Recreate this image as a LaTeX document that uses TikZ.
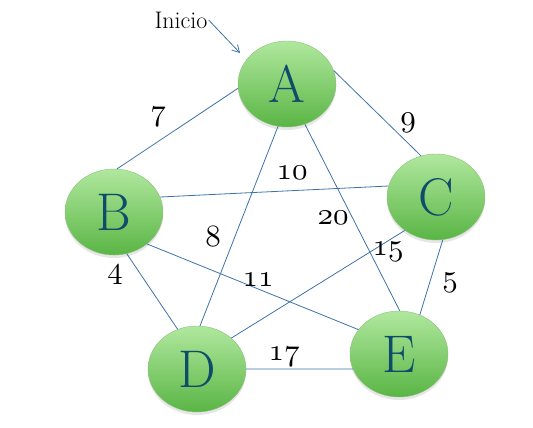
\documentclass[tikz,border=0pt]{standalone}
\usepackage{tikz}
\usetikzlibrary{arrows.meta, positioning, shapes.geometric, shadows}
\definecolor{gnlight}{HTML}{B0E89E}
\definecolor{gndark}{HTML}{5AB545}
\definecolor{gnline}{HTML}{8DBF7C}
\definecolor{gnletter}{HTML}{0F4C6A}
\definecolor{gnedge}{HTML}{3E72A8}
\DeclareFontFamily{OML}{osnum}{\skewchar\font=127}
\DeclareFontShape{OML}{osnum}{m}{it}{<-> cmmi10}{}
\newcommand{\wnum}[1]{{\usefont{OML}{osnum}{m}{it}#1}}

\begin{document}
\begin{tikzpicture}[x=1pt, y=-1pt,
    vertex/.style={ellipse, minimum width=98pt, minimum height=86pt, inner sep=0pt,
                 draw=gnline, thin, top color=gnlight, middle color=gnlight!92!gndark,
                 bottom color=gndark, text=gnletter, font=\fontsize{53}{53}\selectfont,
                 drop shadow={shadow xshift=0pt, shadow yshift=-3pt, opacity=0.2, fill=black!50}},
    edge/.style={draw=gnedge, line width=0.8pt},
    weight/.style={font=\fontsize{31}{31}\selectfont, inner sep=0pt},
  ]
    \useasboundingbox (0,0) rectangle (533,428);
    \node[vertex] (A) at (287,84) {A};
    \node[vertex] (B) at (114,212) {B};
    \node[vertex] (C) at (436,197) {C};
    \node[vertex] (D) at (197,369) {D};
    \node[vertex] (E) at (399,354) {E};
    \node[font=\fontsize{24}{24}\selectfont, inner sep=1pt] (inicio) at (181,20) {Inicio};
    \coordinate (entry) at (240,53);
    \draw[edge, -{Straight Barb[length=7pt, width=8pt]}] (inicio.east) -- (entry);
    \draw[edge] (A.185) -- (B.86);
    \draw[edge] (A.16) -- (C.110);
    \draw[edge] (A.258) -- (D.86);
    \draw[edge] (A.294) -- (E.89);
    \draw[edge] (B.18) -- (C.167);
    \draw[edge] (B.316) -- (E.149);
    \draw[edge] (B.287) -- (D.116);
    \draw[edge] (C.227) -- (D.42);
    \draw[edge] (C.279) -- (E.62);
    \draw[edge] (D.0) -- (E.198);
    \node[weight] (w7) at (158,117) {\wnum{7}};
    \node[weight] (w9) at (408,123) {\wnum{9}};
    \node[weight] (w10) at (292,173) {\wnum{10}};
    \node[weight] (w8) at (213,237) {\wnum{8}};
    \node[weight] (w20) at (333,218) {\wnum{20}};
    \node[weight] (w15) at (388,252) {\wnum{15}};
    \node[weight] (w4) at (115,275) {\wnum{4}};
    \node[weight] (w11) at (258,280) {\wnum{11}};
    \node[weight] (w5) at (450,283) {\wnum{5}};
    \node[weight] (w17) at (284,357) {\wnum{17}};
  \end{tikzpicture}
\end{document}
